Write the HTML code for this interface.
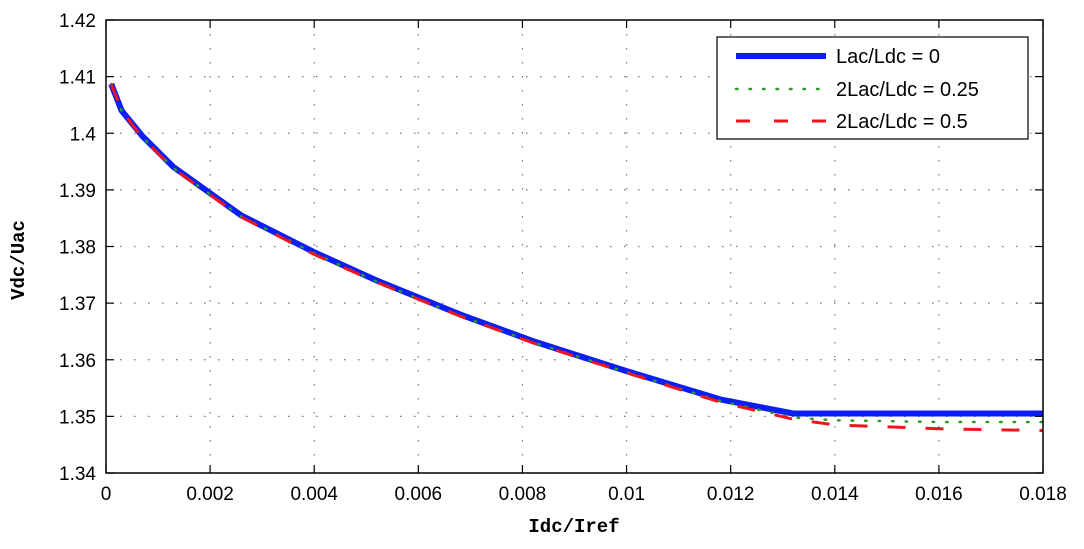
<!DOCTYPE html>
<html><head><meta charset="utf-8"><style>
body{margin:0;background:#fff;}
svg text{font-family:"Liberation Sans",sans-serif;fill:#000;}
</style></head><body>
<svg width="1084" height="544" xmlns="http://www.w3.org/2000/svg">
<g id="grid"></g>
<g id="series"></g>
<rect x="106" y="20" width="937" height="453" fill="none" stroke="#000" stroke-width="1.5"/>
<g id="ticks"></g>
<text x="10" y="246" transform="rotate(-90 24 246)" font-size="19" font-weight="bold" style="font-family:'Liberation Mono',monospace" text-anchor="middle">Vdc/Uac</text>
<text x="574" y="532" font-size="19" font-weight="bold" style="font-family:'Liberation Mono',monospace" text-anchor="middle">Idc/Iref</text>
<g>
<rect x="717" y="37" width="311" height="102" fill="#fff" stroke="#000" stroke-width="1.2"/>
<line x1="736" y1="56" x2="826" y2="56" stroke="#0a1ef5" stroke-width="6"/>
<text x="836" y="63" font-size="20">Lac/Ldc = 0</text>
<line x1="736" y1="89" x2="826" y2="89" stroke="#2a9a2a" stroke-width="2.5" stroke-dasharray="1.5 12" stroke-linecap="round"/>
<text x="836" y="96" font-size="20">2Lac/Ldc = 0.25</text>
<line x1="736" y1="121" x2="826" y2="121" stroke="#f0141e" stroke-width="3" stroke-dasharray="14 24"/>
<text x="836" y="128" font-size="20">2Lac/Ldc = 0.5</text>
</g>
</svg>
<script>
const xTicks=[0,0.002,0.004,0.006,0.008,0.01,0.012,0.014,0.016,0.018];
const xTickLabels=["0","0.002","0.004","0.006","0.008","0.01","0.012","0.014","0.016","0.018"];
const yTicks=[1.34,1.35,1.36,1.37,1.38,1.39,1.4,1.41,1.42];
const yTickLabels=["1.34","1.35","1.36","1.37","1.38","1.39","1.4","1.41","1.42"];
const xs=[0.0001,0.0003,0.0007,0.0013,0.0026,0.004,0.0052,0.0068,0.0082,0.01,0.0118,0.0132,0.014,0.016,0.018];
const ySeries0=[1.4087,1.404,1.3995,1.394,1.3855,1.379,1.374,1.368,1.3633,1.358,1.353,1.3505,1.3505,1.3505,1.3505];
const ySeries025=[1.4087,1.404,1.3993,1.3938,1.3853,1.3788,1.3738,1.3678,1.3631,1.3578,1.3527,1.3498,1.3493,1.349,1.349];
const ySeries05=[1.4087,1.404,1.3992,1.3937,1.3852,1.3786,1.3737,1.3677,1.363,1.3577,1.3525,1.3495,1.3485,1.3478,1.3475];
const L=106,R=1043,T=20,B=473;
const sx=v=>L+(v-0)/0.018*(R-L);
const sy=v=>B-(v-1.34)/0.08*(B-T);
const NS="http://www.w3.org/2000/svg";
function mk(tag,attrs,parent){const e=document.createElementNS(NS,tag);for(const k in attrs)e.setAttribute(k,attrs[k]);parent.appendChild(e);return e;}
const grid=document.getElementById('grid'),ticks=document.getElementById('ticks'),series=document.getElementById('series');
xTicks.forEach((v,i)=>{const x=sx(v);
 if(i>0&&i<xTicks.length-1){const g=mk('line',{x1:x,y1:T,x2:x,y2:B,stroke:'#777','stroke-width':1.2,'stroke-dasharray':'1.5 12.5'},grid);
 
 }
 const t1=mk('line',{x1:x,y1:B,x2:x,y2:B-8,stroke:'#000','stroke-width':1.2},ticks);
 
 
 const t2=mk('line',{x1:x,y1:T,x2:x,y2:T+8,stroke:'#000','stroke-width':1.2},ticks);
 
 
 const lb=mk('text',{x:x,y:500,'font-size':19,'text-anchor':'middle'},ticks);lb.textContent=xTickLabels[i];
 
 
});
yTicks.forEach((v,i)=>{const y=sy(v);
 if(i>0&&i<yTicks.length-1){const g=mk('line',{x1:L,y1:y,x2:R,y2:y,stroke:'#777','stroke-width':1.2,'stroke-dasharray':'1.5 12.5'},grid);
 
 }
 const t1=mk('line',{x1:L,y1:y,x2:L+8,y2:y,stroke:'#000','stroke-width':1.2},ticks);
 
 
 const t2=mk('line',{x1:R,y1:y,x2:R-8,y2:y,stroke:'#000','stroke-width':1.2},ticks);
 
 
 const lb=mk('text',{x:96,y:y+7,'font-size':19,'text-anchor':'end'},ticks);lb.textContent=yTickLabels[i];
 
 
});
function pts(ys){return xs.map((x,i)=>sx(x).toFixed(1)+','+sy(ys[i]).toFixed(1)).join(' ');}
const p0=mk('polyline',{points:pts(ySeries0),fill:'none',stroke:'#0a1ef5','stroke-width':6,'stroke-linejoin':'round'},series);


const p1=mk('polyline',{points:pts(ySeries025),fill:'none',stroke:'#2a9a2a','stroke-width':2.5,'stroke-dasharray':'1.5 12','stroke-linecap':'round'},series);


const p2=mk('polyline',{points:pts(ySeries05),fill:'none',stroke:'#f0141e','stroke-width':3,'stroke-dasharray':'18 20'},series);


</script>
</body></html>
